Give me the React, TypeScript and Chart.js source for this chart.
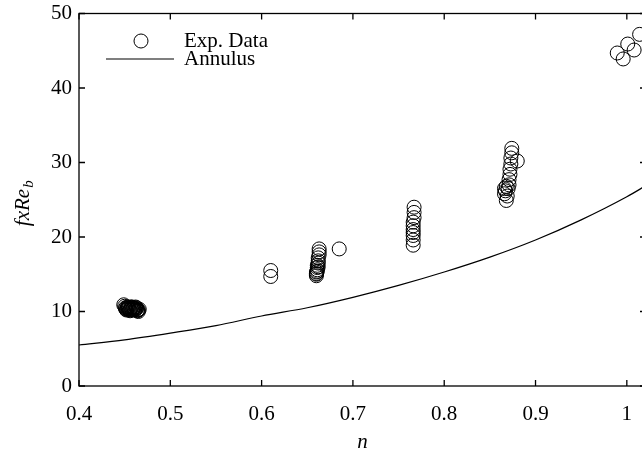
import { useEffect, useRef } from "react";
import { Chart, registerables } from "chart.js";

Chart.register(...registerables);

// Annulus model curve
const annulusN = [0.4, 0.45, 0.5, 0.55, 0.6, 0.65, 0.7, 0.75, 0.8, 0.85, 0.9, 0.95, 1.0, 1.021];
const annulusF = [5.5, 6.2, 7.1, 8.1, 9.4, 10.5, 11.9, 13.5, 15.3, 17.3, 19.6, 22.3, 25.4, 26.9];

const expN = [
  0.449, 0.451, 0.452, 0.453, 0.454, 0.455, 0.456, 0.457, 0.458, 0.459, 0.46, 0.461, 0.462, 0.463, 0.464, 0.465, 0.466,
  0.45, 0.451, 0.453, 0.455, 0.456, 0.458, 0.459, 0.46, 0.462, 0.463, 0.464, 0.452, 0.454, 0.457, 0.461, 0.465,
  0.61, 0.61,
  0.663, 0.663, 0.663, 0.662, 0.662, 0.662, 0.661, 0.661, 0.661, 0.66, 0.66, 0.66, 0.661, 0.662, 0.660,
  0.685,
  0.767, 0.767, 0.767, 0.766, 0.766, 0.766, 0.766, 0.766, 0.766, 0.766,
  0.874, 0.874, 0.873, 0.88, 0.873, 0.872, 0.872, 0.871, 0.871, 0.87, 0.868, 0.867, 0.866, 0.869, 0.868, 0.866,
  0.9895, 0.996, 1.001, 1.008, 1.014,
];
const expF = [
  10.9, 10.5, 10.3, 10.4, 10.6, 10.2, 10.1, 10.4, 10.6, 10.3, 10.5, 10.2, 10.6, 10.4, 10.1, 10.0, 10.3,
  10.7, 10.4, 10.6, 10.5, 10.3, 10.2, 10.5, 10.4, 10.3, 10.5, 10.2, 10.2, 10.4, 10.6, 10.4, 10.2,
  15.5, 14.7,
  18.4, 18.0, 17.6, 17.2, 16.8, 16.5, 16.2, 15.9, 15.6, 15.3, 15.0, 14.8, 15.4, 16.0, 15.1,
  18.4,
  24.0, 23.3, 22.6, 22.0, 21.5, 21.0, 20.6, 20.2, 19.6, 18.9,
  31.9, 31.3, 30.6, 30.2, 29.8, 29.1, 28.4, 27.7, 27.0, 26.5, 26.8, 26.2, 25.8, 25.5, 24.9, 26.5,
  44.7, 43.9, 45.9, 45.1, 47.2,
];

const xTicks = [0.4, 0.5, 0.6, 0.7, 0.8, 0.9, 1.0];
const yTicks = [0, 10, 20, 30, 40, 50];
const xRange = [0.4, 1.021];
const yRange = [0, 50];

const seriesLabels = ["Exp. Data", "Annulus"];
const xTitle = "n";
const yTitleMain = "fxRe";
const yTitleSub = "b";

const FONT = "'Liberation Serif', 'Times New Roman', serif";
const FONT_SIZE = 21;

const framePlugin = {
  id: "framePlugin",
  afterDraw(chart: any) {
    const { ctx, chartArea } = chart;
    const { left, right, top, bottom } = chartArea;
    const xs = chart.scales.x;
    const ys = chart.scales.y;
    const tl = 6;
    ctx.save();
    ctx.strokeStyle = "#000";
    ctx.lineWidth = 1.3;
    ctx.strokeRect(left, top, right - left, bottom - top);
    ctx.beginPath();
    for (const v of xTicks) {
      const px = xs.getPixelForValue(v);
      ctx.moveTo(px, bottom);
      ctx.lineTo(px, bottom - tl);
      ctx.moveTo(px, top);
      ctx.lineTo(px, top + tl);
    }
    for (const v of yTicks) {
      const py = ys.getPixelForValue(v);
      ctx.moveTo(left, py);
      ctx.lineTo(left + tl, py);
      ctx.moveTo(right, py);
      ctx.lineTo(right - tl, py);
    }
    ctx.stroke();

    // legend
    const ds = chart.data.datasets;
    ctx.fillStyle = "#000";
    ctx.font = `${FONT_SIZE}px ${FONT}`;
    ctx.textBaseline = "middle";
    ctx.textAlign = "left";
    const symX = 141;
    const textX = 184;
    const row1 = 41;
    const row2 = 59;
    ctx.lineWidth = 1;
    ctx.beginPath();
    ctx.arc(symX, row1, 7, 0, Math.PI * 2);
    ctx.stroke();
    ctx.fillText(ds[0].label, textX, row1);
    ctx.beginPath();
    ctx.lineWidth = 1.2;
    ctx.moveTo(106, row2);
    ctx.lineTo(174, row2);
    ctx.stroke();
    ctx.fillText(ds[1].label, textX, row2);

    // y title with subscript
    ctx.save();
    ctx.translate(22, (top + bottom) / 2 + 4);
    ctx.rotate(-Math.PI / 2);
    ctx.font = `italic ${FONT_SIZE}px ${FONT}`;
    const w1 = ctx.measureText(yTitleMain).width;
    ctx.font = `italic ${Math.round(FONT_SIZE * 0.72)}px ${FONT}`;
    const w2 = ctx.measureText(yTitleSub).width;
    const start = -(w1 + w2) / 2;
    ctx.textBaseline = "alphabetic";
    ctx.font = `italic ${FONT_SIZE}px ${FONT}`;
    ctx.fillText(yTitleMain, start, 7);
    ctx.font = `italic ${Math.round(FONT_SIZE * 0.72)}px ${FONT}`;
    ctx.fillText(yTitleSub, start + w1 + 1, 11);
    ctx.restore();

    ctx.restore();
  },
};

export default function App() {
  const ref = useRef<HTMLCanvasElement | null>(null);

  useEffect(() => {
    document.body.style.margin = "0";
    const canvas = ref.current;
    if (!canvas) return;
    const chart = new Chart(canvas, {
      type: "scatter",
      data: {
        datasets: [
          {
            label: seriesLabels[0],
            data: expN.map((n, i) => ({ x: n, y: expF[i] })),
            pointStyle: "circle",
            pointRadius: 7,
            pointHoverRadius: 7,
            pointBorderWidth: 1,
            pointBorderColor: "#000",
            pointBackgroundColor: "rgba(0,0,0,0)",
            showLine: false,
          },
          {
            label: seriesLabels[1],
            data: annulusN.map((n, i) => ({ x: n, y: annulusF[i] })),
            showLine: true,
            borderColor: "#000",
            borderWidth: 1.2,
            pointRadius: 0,
            tension: 0.4,
            cubicInterpolationMode: "monotone",
          } as any,
        ],
      },
      options: {
        animation: false,
        responsive: false,
        maintainAspectRatio: false,
        events: [],
        layout: { padding: { top: 13.5, right: 2, left: 0, bottom: 0 } },
        plugins: {
          legend: { display: false },
          tooltip: { enabled: false },
        },
        scales: {
          x: {
            type: "linear",
            min: xRange[0],
            max: xRange[1],
            grid: { display: false, drawTicks: false },
            border: { display: false },
            afterBuildTicks: (scale: any) => {
              scale.ticks = xTicks.map((v) => ({ value: v }));
            },
            afterFit: (scale: any) => {
              scale.height = 71;
              scale.paddingLeft = 0;
              scale.paddingRight = 0;
            },
            ticks: {
              color: "#000",
              padding: 16,
              maxRotation: 0,
              font: { family: FONT, size: FONT_SIZE },
              callback: (v: any) => String(v),
            },
            title: {
              display: true,
              text: xTitle,
              color: "#000",
              padding: { top: 0, bottom: 2 },
              font: { family: FONT, size: FONT_SIZE, style: "italic" },
            },
          },
          y: {
            type: "linear",
            min: yRange[0],
            max: yRange[1],
            grid: { display: false, drawTicks: false },
            border: { display: false },
            afterBuildTicks: (scale: any) => {
              scale.ticks = yTicks.map((v) => ({ value: v }));
            },
            afterFit: (scale: any) => {
              scale.width = 79;
              scale.paddingTop = 0;
              scale.paddingBottom = 0;
            },
            ticks: {
              color: "#000",
              padding: 7,
              font: { family: FONT, size: FONT_SIZE },
              callback: (v: any) => String(v),
            },
          },
        },
      },
      plugins: [framePlugin],
    });
    return () => chart.destroy();
  }, []);

  return (
    <div style={{ width: 642, height: 457, overflow: "hidden", position: "relative", background: "#fff" }}>
      <canvas ref={ref} width={654} height={457} style={{ display: "block", width: 654, height: 457 }} />
    </div>
  );
}
